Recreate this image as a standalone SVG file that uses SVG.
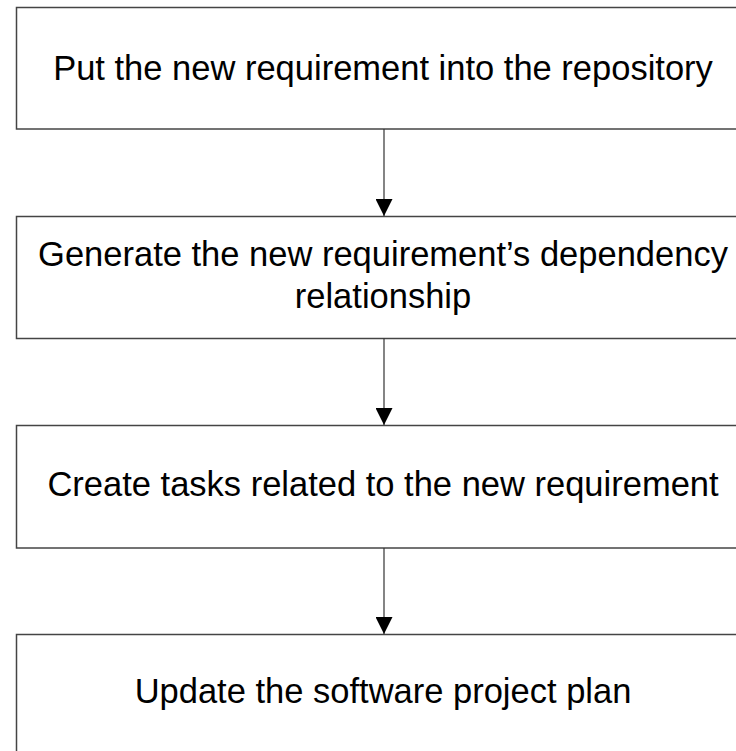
<svg xmlns="http://www.w3.org/2000/svg" width="736" height="751" viewBox="0 0 736 751">
  <defs>
    <marker id="arrow" markerWidth="17" markerHeight="17" refX="17" refY="8.5" orient="auto" markerUnits="userSpaceOnUse">
      <path d="M0,0 L17,8.5 L0,17 Z" fill="#000"/>
    </marker>
    <style>
      .box { fill: #fff; stroke: #444; stroke-width: 1.5; }
      .label { font-family: "Liberation Sans", Arial, sans-serif; font-size: 34.5px; fill: #000; text-anchor: middle; }
      .conn { stroke: #333; stroke-width: 1.2; fill: none; }
    </style>
  </defs>
  <rect width="736" height="751" fill="#fff"/>

  <g id="node-put">
    <rect class="box" x="16.5" y="7.5" width="740" height="121.5"/>
    <text class="label" x="383" y="80">Put the new requirement into the repository</text>
  </g>

  <g id="node-generate">
    <rect class="box" x="16.5" y="216.5" width="740" height="122"/>
    <text class="label" x="383" y="266">Generate the new requirement’s dependency</text>
    <text class="label" x="383" y="308">relationship</text>
  </g>

  <g id="node-create">
    <rect class="box" x="16.5" y="425.5" width="740" height="122.5"/>
    <text class="label" x="383" y="496">Create tasks related to the new requirement</text>
  </g>

  <g id="node-update">
    <rect class="box" x="16.5" y="634.5" width="740" height="130"/>
    <text class="label" x="383" y="703">Update the software project plan</text>
  </g>

  <g id="connectors">
    <line class="conn" x1="384" y1="129" x2="384" y2="216" marker-end="url(#arrow)"/>
    <line class="conn" x1="384" y1="338.5" x2="384" y2="425" marker-end="url(#arrow)"/>
    <line class="conn" x1="384" y1="548" x2="384" y2="634" marker-end="url(#arrow)"/>
  </g>
</svg>
